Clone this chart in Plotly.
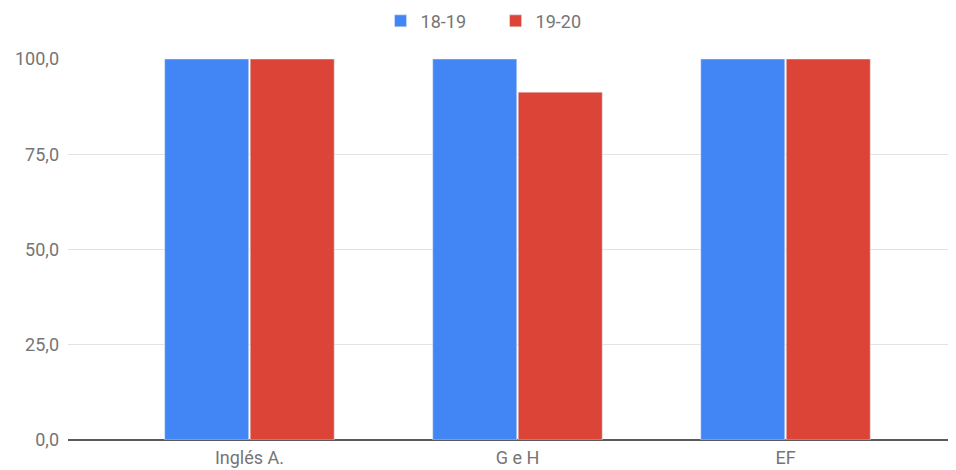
import plotly.graph_objects as go

# datos
asignaturas = ["Inglés A.", "G e H", "EF"]
curso_18_19 = [100.0, 100.0, 100.0]
curso_19_20 = [100.0, 91.3, 100.0]
y_ticks = [0, 25, 50, 75, 100]
y_labels = ["0,0", "25,0", "50,0", "75,0", "100,0"]

gris = "#757575"

fig = go.Figure()
fig.add_trace(go.Bar(x=asignaturas, y=curso_18_19, name="18-19", marker_color="#4285F4"))
fig.add_trace(go.Bar(x=asignaturas, y=curso_19_20, name="19-20", marker_color="#DB4437"))

#ejes
fig.update_xaxes(range=[-0.677, 2.636], showgrid=False, ticks="", showline=False,
                 ticklabelstandoff=5,
                 tickfont=dict(family="Roboto", size=18, color=gris))
fig.update_yaxes(range=[0, 100], tickvals=y_ticks, ticktext=y_labels,
                 gridcolor="#e3e3e3", gridwidth=1,
                 zeroline=True, zerolinecolor="#5a5a5a", zerolinewidth=1.5,
                 ticks="", ticklabelstandoff=8,
                 tickfont=dict(family="Roboto", size=18, color=gris))

#tamaño (la página tiene 8px de margen en el body)
fig.update_layout(width=956, height=470, barmode="group", bargap=0.362, bargroupgap=0.0175,
                  plot_bgcolor="white", paper_bgcolor="white",
                  margin=dict(l=60, r=8, t=51, b=38, autoexpand=False),
                  font=dict(family="Roboto", color=gris),
                  legend=dict(orientation="h", xref="container", yref="container",
                              x=0.51, xanchor="center", y=0.972, yanchor="middle",
                              entrywidth=70,
                              font=dict(family="Roboto", size=18, color=gris)))

fig.write_html("out.html")
